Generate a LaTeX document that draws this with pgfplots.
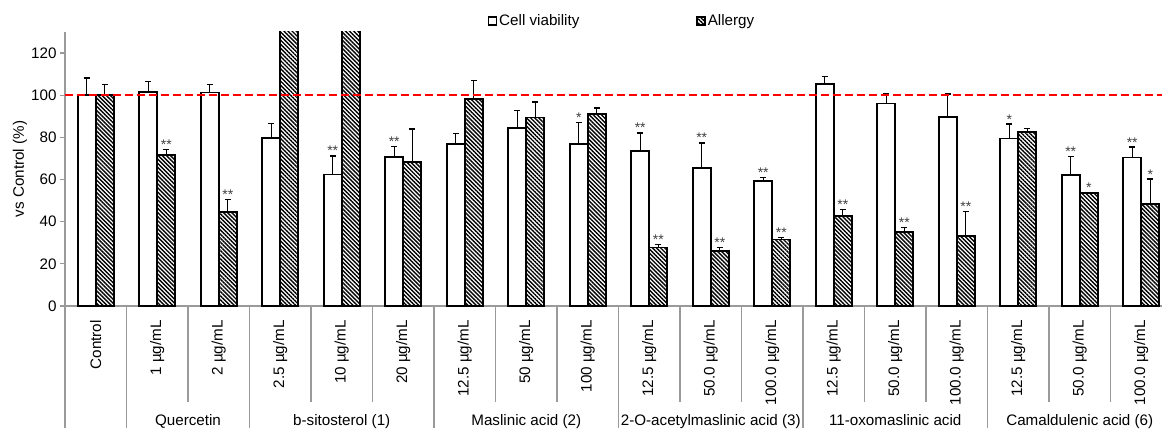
\documentclass[border=0pt]{standalone}
\usepackage{fontspec}
\setmainfont{Liberation Sans}
\usepackage{pgfplots}
\usepackage{pgfplotstable}
\pgfplotsset{compat=1.18}
\usetikzlibrary{patterns.meta}
\definecolor{axgray}{HTML}{9A9A9A}
\newcommand\lf{\fontsize{15.2}{18}\selectfont}
\newcommand\starf{\fontsize{14}{16}\selectfont}

% Cell viability: x, value, error (upper)
\pgfplotstableread{
x y e
-0.147 100.0 8.2
0.853 101.6 4.9
1.853 101.3 3.8
2.853 79.8 6.9
3.853 62.4 8.8
4.853 70.6 5.1
5.853 76.8 5.2
6.853 84.5 8.1
7.853 76.8 10.2
8.853 73.6 8.5
9.853 65.3 12.1
10.853 59.2 1.9
11.853 105.2 3.8
12.853 96.1 4.7
13.853 89.7 10.9
14.853 79.5 6.8
15.853 62.2 8.7
16.853 70.5 4.9
}\cvtab

% Allergy
\pgfplotstableread{
x y e
0.147 100.0 5.0
1.147 71.6 2.7
2.147 44.7 5.9
3.147 150.0 0.0
4.147 150.0 0.0
5.147 68.2 15.8
6.147 98.4 8.6
7.147 89.4 7.4
8.147 91.1 2.9
9.147 27.8 1.4
10.147 26.1 1.5
11.147 31.6 0.9
12.147 42.8 3.0
13.147 35.2 1.9
14.147 33.2 11.7
15.147 82.5 1.7
16.147 53.6 0.2
17.147 48.3 11.9
}\altab

% significance marks (x, top of error bar, label)
\pgfplotstableread{
x y l
3.853 71.2 **
4.853 75.7 **
7.853 87.0 *
8.853 82.1 **
9.853 77.4 **
10.853 61.1 **
14.853 86.3 *
15.853 70.9 **
16.853 75.4 **
1.147 74.3 **
2.147 50.6 **
9.147 29.2 **
10.147 27.6 **
11.147 32.5 **
12.147 45.8 **
13.147 37.1 **
14.147 44.9 **
16.147 53.8 *
17.147 60.2 *
}\sigtab

\begin{document}
\begin{tikzpicture}
\begin{axis}[
  scale only axis,
  width=1097pt, height=274pt,
  xmin=-0.5, xmax=17.337,
  ymin=0, ymax=130,
  clip mode=individual,
  axis x line*=bottom,
  axis y line*=left,
  axis line style={axgray, line width=1.2pt},
  ytick={0,20,...,120},
  ytick style={axgray, line width=1.2pt},
  tick align=outside,
  major tick length=5pt,
  yticklabel style={font=\lf, black},
  /pgf/number format/assume math mode=true,
  xtick={0,...,17},
  xtick style={draw=none},
  xticklabels={Control,1 µg/mL,2 µg/mL,2.5 µg/mL,10 µg/mL,20 µg/mL,12.5 µg/mL,50 µg/mL,100 µg/mL,12.5 µg/mL,50.0 µg/mL,100.0 µg/mL,12.5 µg/mL,50.0 µg/mL,100.0 µg/mL,12.5 µg/mL,50.0 µg/mL,100.0 µg/mL},
  xticklabel style={font=\lf, rotate=90, anchor=east, inner sep=0pt},
  xticklabel shift=9pt,
  ylabel={vs Control (\%)},
  ylabel style={font=\lf, at={(axis description cs:-0.041,0.5)}, anchor=center},
  legend style={draw=none, fill=none, font=\lf, legend columns=2,
    at={(0.5078,1.04)}, anchor=center, inner sep=0pt,
    /tikz/every even column/.append style={column sep=115pt},
    nodes={inner sep=2pt}},
  mylegend/.style={legend image code/.code={\draw[##1, line width=1.3pt] (0pt,-4pt) rectangle (8pt,4pt);}},
  bar width=0.293,
]
\addplot[ybar, bar shift=0pt, fill=white, draw=black, line width=1.8pt, mylegend,
  error bars/.cd, y dir=plus, y explicit,
  error bar style={line width=1.3pt, black},
  error mark options={rotate=90, line width=1.3pt, black, mark size=3pt}]
  table[x=x, y=y, y error=e] {\cvtab};
\addlegendentry{Cell viability}
\addplot[ybar, bar shift=0pt, draw=black, line width=1.8pt, mylegend,
  pattern={Lines[angle=-45, distance=2.9pt, line width=1.4pt]}, pattern color=black,
  error bars/.cd, y dir=plus, y explicit,
  error bar style={line width=1.3pt, black},
  error mark options={rotate=90, line width=1.3pt, black, mark size=3pt}]
  table[x=x, y=y, y error=e] {\altab};
\addlegendentry{Allergy}
\addplot[forget plot, red, line width=2pt, dash pattern=on 8pt off 4pt]
  coordinates {(-0.5,100) (17.337,100)};
\addplot[forget plot, draw=none, mark=none, nodes near coords, point meta=explicit symbolic,
  nodes near coords style={font=\starf, black!75, anchor=base, inner sep=0pt, yshift=0pt}]
  table[x=x, y=y, meta=l] {\sigtab};
% category dividers
\draw[axgray, line width=1.2pt] (axis cs:-0.5,0) -- ([yshift=-122pt]axis cs:-0.5,0);
\draw[axgray, line width=1.2pt] (axis cs:0.5,0) -- ([yshift=-122pt]axis cs:0.5,0);
\draw[axgray, line width=1.2pt] (axis cs:2.5,0) -- ([yshift=-122pt]axis cs:2.5,0);
\draw[axgray, line width=1.2pt] (axis cs:5.5,0) -- ([yshift=-122pt]axis cs:5.5,0);
\draw[axgray, line width=1.2pt] (axis cs:8.5,0) -- ([yshift=-122pt]axis cs:8.5,0);
\draw[axgray, line width=1.2pt] (axis cs:11.5,0) -- ([yshift=-122pt]axis cs:11.5,0);
\draw[axgray, line width=1.2pt] (axis cs:14.5,0) -- ([yshift=-122pt]axis cs:14.5,0);
\draw[axgray, line width=1.2pt] (axis cs:1.5,0) -- ([yshift=-96pt]axis cs:1.5,0);
\draw[axgray, line width=1.2pt] (axis cs:3.5,0) -- ([yshift=-96pt]axis cs:3.5,0);
\draw[axgray, line width=1.2pt] (axis cs:4.5,0) -- ([yshift=-96pt]axis cs:4.5,0);
\draw[axgray, line width=1.2pt] (axis cs:6.5,0) -- ([yshift=-96pt]axis cs:6.5,0);
\draw[axgray, line width=1.2pt] (axis cs:7.5,0) -- ([yshift=-96pt]axis cs:7.5,0);
\draw[axgray, line width=1.2pt] (axis cs:9.5,0) -- ([yshift=-96pt]axis cs:9.5,0);
\draw[axgray, line width=1.2pt] (axis cs:10.5,0) -- ([yshift=-96pt]axis cs:10.5,0);
\draw[axgray, line width=1.2pt] (axis cs:12.5,0) -- ([yshift=-96pt]axis cs:12.5,0);
\draw[axgray, line width=1.2pt] (axis cs:13.5,0) -- ([yshift=-96pt]axis cs:13.5,0);
\draw[axgray, line width=1.2pt] (axis cs:15.5,0) -- ([yshift=-96pt]axis cs:15.5,0);
\draw[axgray, line width=1.2pt] (axis cs:16.5,0) -- ([yshift=-96pt]axis cs:16.5,0);
% group names
\node[font=\lf, anchor=base] at ([yshift=-119pt]axis cs:1.5,0) {Quercetin};
\node[font=\lf, anchor=base] at ([yshift=-119pt]axis cs:4,0) {b-sitosterol (1)};
\node[font=\lf, anchor=base] at ([yshift=-119pt]axis cs:7,0) {Maslinic acid (2)};
\node[font=\lf, anchor=base] at ([yshift=-119pt]axis cs:10,0) {2-O-acetylmaslinic acid (3)};
\node[font=\lf, anchor=base] at ([yshift=-119pt]axis cs:13,0) {11-oxomaslinic acid};
\node[font=\lf, anchor=base] at ([yshift=-119pt]axis cs:16,0) {Camaldulenic acid (6)};
\coordinate (sw) at (rel axis cs:0,0);
\coordinate (ne) at (rel axis cs:1,1);
\end{axis}
\pgfresetboundingbox
\path ([xshift=-65pt,yshift=-122pt]sw) rectangle ([yshift=32pt]ne);
\end{tikzpicture}
\end{document}
